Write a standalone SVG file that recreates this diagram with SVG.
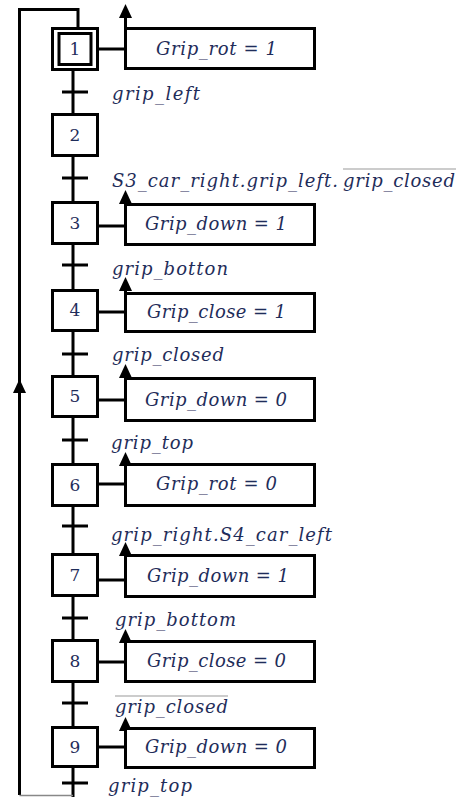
<svg xmlns="http://www.w3.org/2000/svg" width="458" height="797" viewBox="0 0 458 797">
<defs>
<marker id="ah" markerUnits="userSpaceOnUse" markerWidth="14" markerHeight="13" refX="0" refY="6.5" orient="auto" viewBox="0 0 14 13">
<path d="M0,0 L14,6.5 L0,13 z" fill="#000"/>
</marker>
<style>
.ln{fill:none;stroke:#000;stroke-width:3}
.arr{fill:none;stroke:#000;stroke-width:3;marker-end:url(#ah)}
.box{fill:#fff;stroke:#000;stroke-width:3}
.num{font-family:"DejaVu Serif","Liberation Serif",serif;font-size:17px;fill:#1f2d5a;text-anchor:middle}
.t{font-family:"DejaVu Serif","Liberation Serif",serif;font-style:italic;font-size:18px;fill:#1f2d5a}
.ov{stroke:#999;stroke-width:1.2}
</style>
</defs>
<g id="connectors">
<path class="ln" d="M73,70 V797"/>
<path class="ln" d="M78,28 V9.5 H19.5 V795"/>
<line x1="19.5" y1="795.5" x2="73" y2="795.5" stroke="#888" stroke-width="1.5"/>
<path class="arr" d="M19.5,500 V393"/>
<g class="ln">
<line x1="62" y1="92" x2="88" y2="92"/>
<line x1="62" y1="178" x2="88" y2="178"/>
<line x1="62" y1="265" x2="88" y2="265"/>
<line x1="62" y1="354" x2="88" y2="354"/>
<line x1="62" y1="440" x2="88" y2="440"/>
<line x1="62" y1="526" x2="88" y2="526"/>
<line x1="62" y1="618" x2="88" y2="618"/>
<line x1="62" y1="703" x2="88" y2="703"/>
<line x1="62" y1="783" x2="88" y2="783"/>
<line x1="98" y1="49" x2="125" y2="49"/>
<line x1="98" y1="226" x2="125" y2="226"/>
<line x1="98" y1="312" x2="125" y2="312"/>
<line x1="98" y1="400" x2="125" y2="400"/>
<line x1="98" y1="484" x2="125" y2="484"/>
<line x1="98" y1="580" x2="125" y2="580"/>
<line x1="98" y1="662" x2="125" y2="662"/>
<line x1="98" y1="747" x2="125" y2="747"/>
</g>
<path class="arr" d="M125.5,40 V18"/>
<path class="arr" d="M125.5,210 V204"/>
<path class="arr" d="M125.5,300 V291"/>
<path class="arr" d="M125.5,385 V378"/>
<path class="arr" d="M125.5,470 V466"/>
<path class="arr" d="M125.5,560 V556"/>
<path class="arr" d="M125.5,650 V643"/>
<path class="arr" d="M125.5,735 V731"/>
</g>
<g id="transitions">
<text class="t" x="112" y="100" textLength="88" lengthAdjust="spacing">grip_left</text>
<text class="t" x="112" y="187" textLength="226" lengthAdjust="spacing">S3_car_right.grip_left.</text>
<text class="t" x="343" y="187" textLength="112" lengthAdjust="spacing">grip_closed</text>
<line class="ov" x1="343" y1="169" x2="456" y2="169"/>
<text class="t" x="112" y="275" textLength="116" lengthAdjust="spacing">grip_botton</text>
<text class="t" x="112" y="361" textLength="112" lengthAdjust="spacing">grip_closed</text>
<text class="t" x="111" y="449" textLength="82" lengthAdjust="spacing">grip_top</text>
<text class="t" x="111" y="541" textLength="221" lengthAdjust="spacing">grip_right.S4_car_left</text>
<text class="t" x="115" y="626" textLength="121" lengthAdjust="spacing">grip_bottom</text>
<text class="t" x="115" y="713" textLength="113" lengthAdjust="spacing">grip_closed</text>
<line class="ov" x1="115" y1="696" x2="228" y2="696"/>
<text class="t" x="108" y="792" textLength="84" lengthAdjust="spacing">grip_top</text>
</g>
<g id="step1">
<rect class="box" x="52.5" y="28.5" width="45" height="41"/>
<rect class="box" x="59" y="33.5" width="32" height="31"/>
<text class="num" x="75" y="55">1</text>
</g>
<g id="step2"><rect class="box" x="52.5" y="114.5" width="45" height="41"/><text class="num" x="75" y="141">2</text></g>
<g id="step3"><rect class="box" x="52.5" y="202.5" width="45" height="41"/><text class="num" x="75" y="229">3</text></g>
<g id="step4"><rect class="box" x="52.5" y="290.5" width="45" height="40"/><text class="num" x="75" y="316">4</text></g>
<g id="step5"><rect class="box" x="52.5" y="376.5" width="45" height="40"/><text class="num" x="75" y="402">5</text></g>
<g id="step6"><rect class="box" x="52.5" y="464.5" width="45" height="41"/><text class="num" x="75" y="491">6</text></g>
<g id="step7"><rect class="box" x="52.5" y="554.5" width="45" height="41"/><text class="num" x="75" y="581">7</text></g>
<g id="step8"><rect class="box" x="52.5" y="640.5" width="45" height="41"/><text class="num" x="75" y="667">8</text></g>
<g id="step9"><rect class="box" x="52.5" y="727.5" width="45" height="39"/><text class="num" x="75" y="753">9</text></g>
<g id="action1"><rect class="box" x="125.5" y="28.5" width="189" height="40"/><text class="t" x="156" y="55" textLength="121" lengthAdjust="spacing">Grip_rot = 1</text></g>
<g id="action3"><rect class="box" x="125.5" y="204.5" width="189" height="40"/><text class="t" x="145" y="230" textLength="142" lengthAdjust="spacing">Grip_down = 1</text></g>
<g id="action4"><rect class="box" x="125.5" y="293.5" width="189" height="38"/><text class="t" x="147" y="318" textLength="139" lengthAdjust="spacing">Grip_close = 1</text></g>
<g id="action5"><rect class="box" x="125.5" y="378.5" width="189" height="42"/><text class="t" x="145" y="406" textLength="142" lengthAdjust="spacing">Grip_down = 0</text></g>
<g id="action6"><rect class="box" x="125.5" y="464.5" width="189" height="41"/><text class="t" x="156" y="490" textLength="121" lengthAdjust="spacing">Grip_rot = 0</text></g>
<g id="action7"><rect class="box" x="125.5" y="555.5" width="189" height="41"/><text class="t" x="147" y="582" textLength="142" lengthAdjust="spacing">Grip_down = 1</text></g>
<g id="action8"><rect class="box" x="125.5" y="641.5" width="189" height="40"/><text class="t" x="147" y="667" textLength="139" lengthAdjust="spacing">Grip_close = 0</text></g>
<g id="action9"><rect class="box" x="125.5" y="728.5" width="189" height="39"/><text class="t" x="145" y="753" textLength="142" lengthAdjust="spacing">Grip_down = 0</text></g>
</svg>
